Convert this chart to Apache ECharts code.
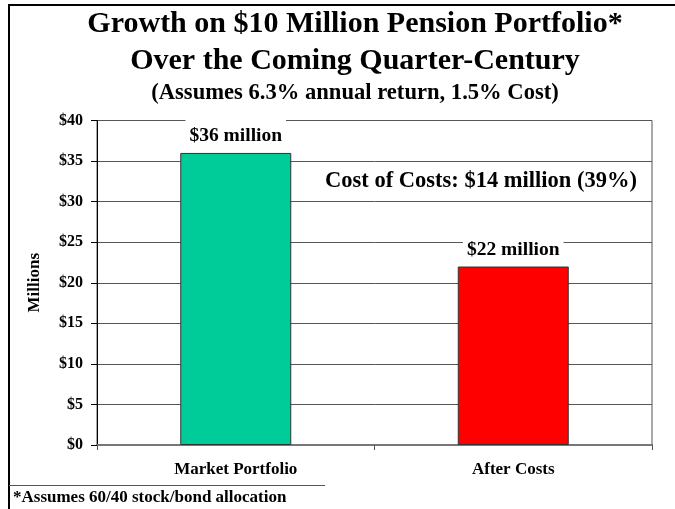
<!DOCTYPE html>
<html>
<head>
<meta charset="utf-8">
<script src="https://cdn.jsdelivr.net/npm/echarts@6/dist/echarts.min.js"></script>
<style>html,body{margin:0;padding:0;background:#fff;}#c{width:675px;height:509px;}</style>
</head>
<body>
<div id="c"></div>
<script>
var categories = ['Market Portfolio', 'After Costs'];
var values = [36, 22];
var valueLabels = ['$36 million', '$22 million'];
var barColors = ['#00CC99', '#FF0000'];
var yTicks = { min: 0, max: 40, interval: 5 };
var titleLines = ['Growth on $10 Million Pension Portfolio*', 'Over the Coming Quarter-Century'];
var subtitle = '(Assumes 6.3% annual return, 1.5% Cost)';
var annotation = 'Cost of Costs: $14 million (39%)';
var footnote = '*Assumes 60/40 stock/bond allocation';
var FF = '"Liberation Serif", "Times New Roman", serif';

var chart = echarts.init(document.getElementById('c'), null, { renderer: 'canvas' });
chart.setOption({
  backgroundColor: '#fff',
  animation: false,
  title: [
    { text: titleLines[0], left: 350, textAlign: 'center', top: 4, textStyle: { fontFamily: FF, fontWeight: 'bold', fontSize: 30, color: '#000' } },
    { text: titleLines[1], left: 350, textAlign: 'center', top: 41, textStyle: { fontFamily: FF, fontWeight: 'bold', fontSize: 30, color: '#000' } },
    { text: subtitle, left: 350, textAlign: 'center', top: 77, textStyle: { fontFamily: FF, fontWeight: 'bold', fontSize: 22.6, color: '#000' } },
    { text: annotation, left: 476, textAlign: 'center', top: 165, textStyle: { fontFamily: FF, fontWeight: 'bold', fontSize: 22.5, color: '#000' } },
    { text: footnote, left: 8, top: 484, textStyle: { fontFamily: FF, fontWeight: 'bold', fontSize: 17, color: '#000' } }
  ],
  graphic: [
    { type: 'line', shape: { x1: 9, y1: 5, x2: 675, y2: 5 }, style: { stroke: '#000', lineWidth: 2 } },
    { type: 'line', shape: { x1: 9, y1: 4, x2: 9, y2: 509 }, style: { stroke: '#000', lineWidth: 2 } },
    { type: 'line', shape: { x1: 9, y1: 485.5, x2: 325, y2: 485.5 }, style: { stroke: '#555', lineWidth: 1 } }
  ],
  grid: { left: 97, right: 23, top: 120.5, bottom: 64, show: true, borderColor: '#555', borderWidth: 1, backgroundColor: 'transparent' },
  xAxis: {
    type: 'category',
    data: categories,
    axisLine: { lineStyle: { color: '#777', width: 2 } },
    axisTick: { show: true, length: 5, lineStyle: { color: '#555' } },
    axisLabel: { fontFamily: FF, fontWeight: 'bold', fontSize: 17, color: '#000', margin: 16 }
  },
  yAxis: {
    type: 'value',
    min: yTicks.min, max: yTicks.max, interval: yTicks.interval,
    name: 'Millions', nameLocation: 'middle', nameRotate: 90, nameGap: 54,
    nameTextStyle: { fontFamily: FF, fontWeight: 'bold', fontSize: 17, color: '#000' },
    axisLine: { show: true, lineStyle: { color: '#000', width: 1 } },
    axisTick: { show: true, length: 6, lineStyle: { color: '#000' } },
    axisLabel: { fontFamily: FF, fontWeight: 'bold', fontSize: 16, color: '#000', margin: 14, formatter: '${value}' },
    splitLine: { show: true, lineStyle: { color: '#555', width: 1 } }
  },
  series: [{
    type: 'bar',
    barWidth: '40%',
    data: values.map(function (v, i) {
      return { value: v, itemStyle: { color: barColors[i] } };
    }),
    itemStyle: { borderColor: '#333', borderWidth: 1 },
    label: {
      show: true, position: 'top', distance: 3,
      formatter: function (p) { return valueLabels[p.dataIndex]; },
      fontFamily: FF, fontWeight: 'bold', fontSize: 19.5, color: '#000',
      backgroundColor: '#fff', padding: [8, 4, 4, 4]
    }
  }]
});
</script>
</body>
</html>
